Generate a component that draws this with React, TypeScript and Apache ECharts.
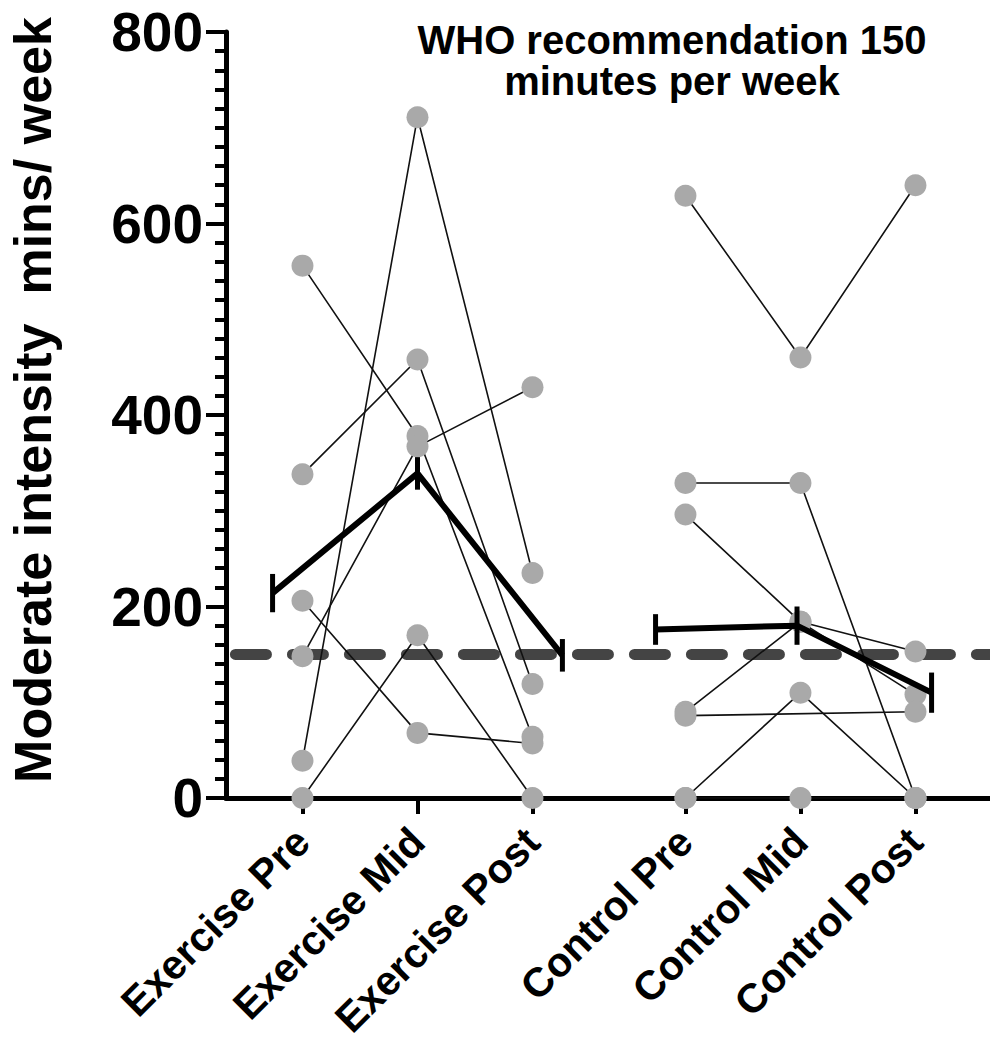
import React, { useEffect, useRef } from "react";
import * as echarts from "echarts";

// ---- data ----
const categories = ["Exercise Pre", "Exercise Mid", "Exercise Post", "Control Pre", "Control Mid", "Control Post"];
const categoryX = [0, 1, 2, 3.33, 4.33, 5.33];

// each row: one participant [Pre, Mid, Post]
const exerciseSubjects: (number | null)[][] = [
  [556, 378, 64],
  [338, 458, 119],
  [39, 711, 235],
  [148, 367, 429],
  [206, 68, 57],
  [0, 170, 0],
];
const controlSubjects: (number | null)[][] = [
  [629, 460, 640],
  [329, 329, 0],
  [296, 184, 153],
  [90, 184, 108],
  [86, null, 90],
  [0, 110, 0],
  [0, 0, 0],
];

const exerciseMean = [214, 339, 149];
const exerciseErr = [20, 17, 17];
const exerciseMeanX = [-0.26, 1.0, 2.26];
const controlMean = [176, 180, 110];
const controlErr = [16, 20, 21];
const controlMeanX = [3.07, 4.3, 5.47];

const WHO_TARGET = 150;
const yTicks = [0, 200, 400, 600, 800];
const titleLines = ["WHO recommendation 150", "minutes per week"];
const yAxisTitle = "Moderate intensity  mins/ week";

const FONT = "'Liberation Sans', Arial, Helvetica, sans-serif";
const X_MIN = -0.665;
const X_MAX = 5.978;

export default function App() {
  const ref = useRef<HTMLDivElement>(null);

  useEffect(() => {
    document.body.style.margin = "0";
    if (!ref.current) return;
    const chart = echarts.init(ref.current, undefined, { renderer: "svg" });

    const subjectLines = (subjects: (number | null)[][], xs: number[]) =>
      subjects.map((s) => ({
        type: "line",
        data: s
          .map((v, i) => (v === null ? null : [xs[i], v]))
          .filter((d) => d !== null),
        symbol: "none",
        showSymbol: false,
        lineStyle: { color: "#111", width: 1.6 },
        z: 3,
        silent: true,
      }));

    const points: number[][] = [];
    exerciseSubjects.forEach((s) => s.forEach((v, i) => { if (v !== null) points.push([categoryX[i], v]); }));
    controlSubjects.forEach((s) => s.forEach((v, i) => { if (v !== null) points.push([categoryX[i + 3], v]); }));

    const meanLine = (xs: number[], means: number[]) => ({
      type: "line",
      data: xs.map((x, i) => [x, means[i]]),
      symbol: "none",
      lineStyle: { color: "#000", width: 6 },
      z: 5,
      silent: true,
    });

    const errData = [
      ...exerciseMeanX.map((x, i) => [x, exerciseMean[i], exerciseErr[i]]),
      ...controlMeanX.map((x, i) => [x, controlMean[i], controlErr[i]]),
    ];

    const option: any = {
      animation: false,
      grid: { left: 226, right: 0, top: 32, bottom: 245, containLabel: false, outerBoundsMode: "none" },
      xAxis: {
        type: "value",
        min: X_MIN,
        max: X_MAX,
        splitLine: { show: false },
        axisLine: { show: true, onZero: false, lineStyle: { color: "#000", width: 5 } },
        axisTick: { show: true, customValues: categoryX, length: 16, lineStyle: { color: "#000", width: 4 } },
        axisLabel: {
          show: true,
          customValues: categoryX,
          rotate: 45,
          margin: 37,
          color: "#000",
          fontSize: 41,
          fontWeight: "bold",
          fontFamily: FONT,
          formatter: (v: number) => {
            let best = 0;
            categoryX.forEach((lv, i) => { if (Math.abs(lv - v) < Math.abs(categoryX[best] - v)) best = i; });
            return categories[best];
          },
        },
      },
      yAxis: {
        type: "value",
        min: yTicks[0],
        max: yTicks[yTicks.length - 1],
        interval: yTicks[1] - yTicks[0],
        splitLine: { show: false },
        axisLine: { show: true, onZero: false, lineStyle: { color: "#000", width: 5 } },
        axisTick: { show: true, length: 20, lineStyle: { color: "#000", width: 4 } },
        minorTick: { show: true, splitNumber: 10, length: 11, lineStyle: { color: "#000", width: 4 } },
        axisLabel: { color: "#000", fontSize: 55, fontWeight: "bold", fontFamily: FONT, margin: 23 },
      },
      graphic: [
        {
          type: "text",
          x: 672,
          y: 19,
          style: {
            text: titleLines.join("\n"),
            align: "center",
            verticalAlign: "top",
            fontSize: 40,
            lineHeight: 41,
            fontWeight: "bold",
            fontFamily: FONT,
            fill: "#000",
          },
          z: 10,
        },
        {
          type: "text",
          x: 33,
          y: 400,
          rotation: Math.PI / 2,
          style: {
            text: yAxisTitle,
            align: "center",
            verticalAlign: "middle",
            fontSize: 52,
            fontWeight: "bold",
            fontFamily: FONT,
            fill: "#000",
          },
        },
      ],
      series: [
        {
          type: "line",
          data: [[-0.583, WHO_TARGET], [X_MAX, WHO_TARGET]],
          symbol: "none",
          lineStyle: { color: "#444", width: 11, type: [31, 26], cap: "round" },
          z: 2,
          silent: true,
        },
        ...subjectLines(exerciseSubjects, categoryX.slice(0, 3)),
        ...subjectLines(controlSubjects, categoryX.slice(3, 6)),
        {
          type: "scatter",
          data: points,
          symbol: "circle",
          symbolSize: 22,
          itemStyle: { color: "#a9a9a9", opacity: 1 },
          z: 4,
          silent: true,
        },
        meanLine(exerciseMeanX, exerciseMean),
        meanLine(controlMeanX, controlMean),
        {
          type: "custom",
          data: errData,
          encode: { x: 0, y: 1 },
          z: 6,
          silent: true,
          renderItem: (params: any, api: any) => {
            const x = api.value(0);
            const m = api.value(1);
            const e = api.value(2);
            const p1 = api.coord([x, m - e]);
            const p2 = api.coord([x, m + e]);
            return {
              type: "line",
              shape: { x1: p1[0], y1: p1[1], x2: p2[0], y2: p2[1] },
              style: { stroke: "#000", lineWidth: 5 },
            };
          },
        },
      ],
    };

    chart.setOption(option);
    return () => chart.dispose();
  }, []);

  return <div ref={ref} style={{ width: 990, height: 1043 }} />;
}
